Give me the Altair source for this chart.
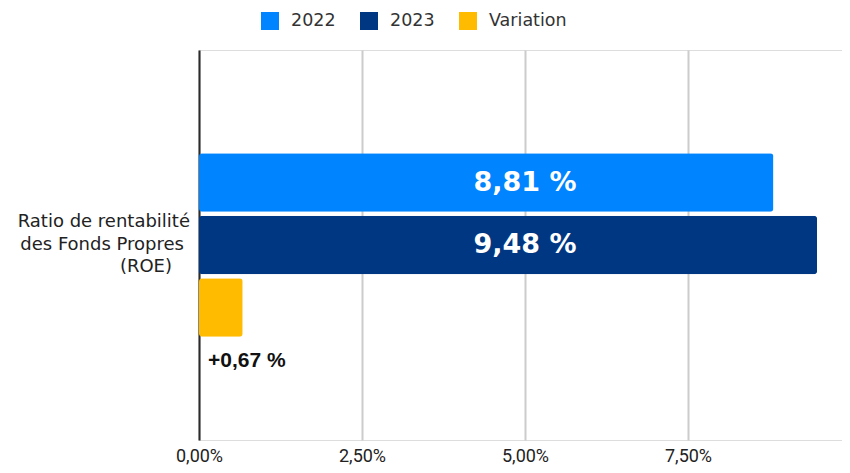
import altair as alt
import pandas as pd

category = "Ratio de rentabilité des Fonds Propres (ROE)"
series = ["2022", "2023", "Variation"]
values = [8.81, 9.48, 0.67]
colors = ["#0084ff", "#003783", "#ffbb00"]
tick_values = [0, 2.5, 5, 7.5]
cat_lines = ["Ratio de rentabilité", "des Fonds Propres", "(ROE)"]


def fmt(v, s):
    t = f"{v:.2f}".replace(".", ",") + " %"
    return ("+" + t) if s == "Variation" else t


df = pd.DataFrame({
    "cat": [category] * 3,
    "series": series,
    "value": values,
    "label": [fmt(v, s) for v, s in zip(values, series)],
})

W, H = 643, 390
X_MAX = 9.862  # visible part of the 0-10 % axis

y_enc = alt.Y("cat:N", title=None,
              scale=alt.Scale(paddingInner=0, paddingOuter=0.5627),
              axis=alt.Axis(labels=False, ticks=False, grid=False,
                            domainColor="#2b2b2b", domainWidth=2))
yoff = alt.YOffset("series:N", sort=series,
                   scale=alt.Scale(paddingInner=0.064, paddingOuter=0))

bars = alt.Chart(df).mark_bar(cornerRadius=3).encode(
    x=alt.X("value:Q", title=None,
            scale=alt.Scale(domain=[0, X_MAX], nice=False, zero=True),
            axis=alt.Axis(values=tick_values, domain=False, ticks=False,
                          grid=True, gridColor="#cccccc", gridWidth=2,
                          labelFlush=False,
                          labelExpr="replace(format(datum.value, '.2f'), '.', ',') + '%'",
                          labelFont="Roboto", labelFontSize=18, labelColor="#222222",
                          labelPadding=7)),
    y=y_enc,
    yOffset=yoff,
    color=alt.Color("series:N", sort=series,
                    scale=alt.Scale(domain=series, range=colors),
                    legend=alt.Legend(title=None, orient="none", direction="horizontal",
                                      legendX=62, legendY=-38,
                                      symbolType="square", symbolSize=324,
                                      symbolStrokeWidth=0, symbolOpacity=1,
                                      labelFont="DejaVu Sans", labelFontSize=17.5,
                                      labelColor="#333333", labelOffset=12,
                                      columnPadding=24)),
)

big_labels = alt.Chart(df).transform_filter(
    "datum.series != 'Variation'"
).mark_text(font="DejaVu Sans", fontWeight="bold", fontSize=27, color="white",
            align="center", baseline="middle").encode(
    x=alt.value(326),
    y=alt.Y("cat:N"),
    yOffset=alt.YOffset("series:N", sort=series),
    text="label:N",
)

var_label = alt.Chart(df).transform_filter(
    "datum.series == 'Variation'"
).mark_text(font="Liberation Sans", fontWeight="bold", fontSize=21, color="#111111",
            align="left", baseline="middle", dx=9, dy=53.5).encode(
    x=alt.value(0),
    y=alt.Y("cat:N"),
    yOffset=alt.YOffset("series:N", sort=series),
    text="label:N",
)

cat_df = pd.DataFrame({"cat": [category]})
line_offsets = [(-9, -23), (-15, 0), (-27, 22)]
cat_layers = []
for line, (ddx, ddy) in zip(cat_lines, line_offsets):
    cat_layers.append(
        alt.Chart(cat_df).mark_text(
            font="DejaVu Sans", fontSize=18, color="#222222", align="right",
            baseline="middle", dx=ddx, dy=ddy
        ).encode(x=alt.value(0), y=alt.Y("cat:N"), text=alt.value(line))
    )

chart = alt.layer(bars, big_labels, var_label, *cat_layers).properties(
    width=W, height=H,
    autosize=alt.AutoSizeParams(type="none"),
    padding={"left": 191, "top": 42, "right": 0, "bottom": 25},
).configure_view(stroke=None).configure(background="white")

chart.save("out.html", embed_options={"renderer": "svg", "actions": False})
